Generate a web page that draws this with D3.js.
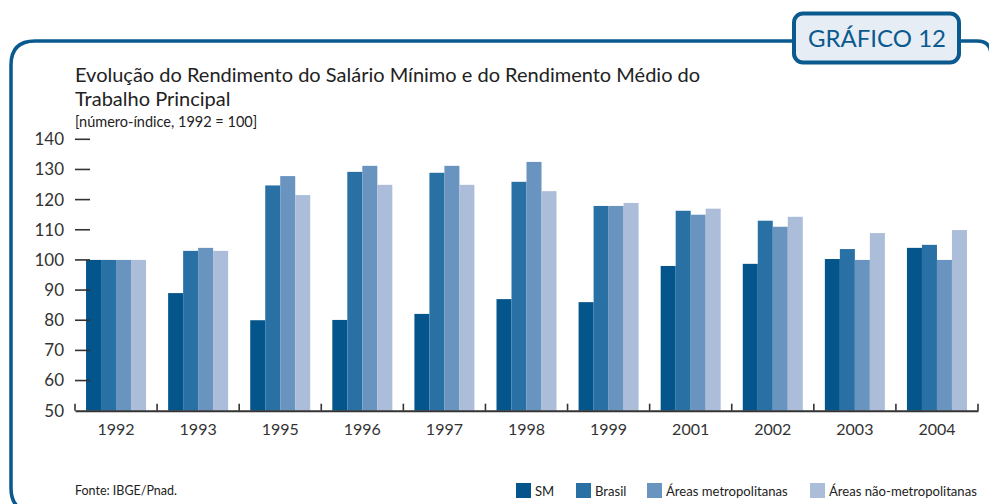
<!DOCTYPE html>
<html>
<head>
<meta charset="utf-8">
<script src="https://cdn.jsdelivr.net/npm/d3@7"></script>
<style>
  body { margin: 0; background: #fff; }
  svg { display: block; font-family: Lato, "Open Sans", sans-serif; }
</style>
</head>
<body>
<div id="chart"></div>
<script>
// données (número-índice, 1992 = 100)
const years = ["1992", "1993", "1995", "1996", "1997", "1998", "1999", "2001", "2002", "2003", "2004"];
const seriesNames = ["SM", "Brasil", "Áreas metropolitanas", "Áreas não-metropolitanas"];
const sm = [100, 89, 80, 80.1, 82.1, 87, 86, 98, 98.7, 100.3, 104];
const brasil = [100, 103, 124.7, 129.2, 128.9, 125.9, 117.9, 116.3, 113, 103.6, 105];
const metro = [100, 104, 127.8, 131.2, 131.2, 132.5, 117.9, 115, 111, 100, 100];
const naoMetro = [100, 103, 121.5, 124.9, 124.9, 122.8, 118.9, 117, 114.3, 108.9, 109.9];
const yTicks = [50, 60, 70, 80, 90, 100, 110, 120, 130, 140];
const colors = ["#03558c", "#2970a5", "#6a94c0", "#abbdd9"];

const title1 = "Evolução do Rendimento do Salário Mínimo e do Rendimento Médio do";
const title2 = "Trabalho Principal";
const subtitle = "[número-índice, 1992 = 100]";
const source = "Fonte: IBGE/Pnad.";
const badge = "GRÁFICO 12";

const width = 989;
const height = 504;
const margin = { top: 139.3, right: 11, bottom: 93.3, left: 75 };
const frameColor = "#0b5a8f";

const svg = d3
  .select("#chart")
  .append("svg")
  .attr("width", width)
  .attr("height", height)
  .attr("viewBox", [0, 0, width, height]);

// cadre arrondi
const fx0 = 11, fy0 = 41, fx1 = 991, fy1 = 512, r1 = 24, r2 = 14;
svg
  .append("path")
  .attr("fill", "none")
  .attr("stroke", frameColor)
  .attr("stroke-width", 3.5)
  .attr(
    "d",
    `M${fx0},${fy1 - r1} L${fx0},${fy0 + r1} Q${fx0},${fy0} ${fx0 + r1},${fy0} ` +
      `L${fx1 - r2},${fy0} Q${fx1},${fy0} ${fx1},${fy0 + r2} L${fx1},${fy1} ` +
      `M${fx0},${fy1 - r1} Q${fx0},${fy1} ${fx0 + r1},${fy1}`
  );

// étiquette "GRÁFICO 12"
svg
  .append("rect")
  .attr("x", 794)
  .attr("y", 13.5)
  .attr("width", 165)
  .attr("height", 49)
  .attr("rx", 9)
  .attr("fill", "#e7edf5")
  .attr("stroke", frameColor)
  .attr("stroke-width", 4);
svg
  .append("text")
  .attr("x", 877)
  .attr("y", 47)
  .attr("text-anchor", "middle")
  .attr("fill", frameColor)
  .style("font-size", "24px")
  .text(badge);

// titres
svg.append("text").attr("x", 75).attr("y", 82).attr("fill", "#222").style("font-size", "20px").text(title1);
svg.append("text").attr("x", 75).attr("y", 106).attr("fill", "#222").style("font-size", "20px").text(title2);
svg.append("text").attr("x", 75).attr("y", 127).attr("fill", "#222").style("font-size", "14.5px").text(subtitle);

// échelles
const x0 = d3
  .scaleBand()
  .domain(years)
  .range([margin.left, width - margin.right]);

const groupW = 60;
const x1 = d3
  .scaleBand()
  .domain(seriesNames)
  .range([(x0.bandwidth() - groupW) / 2, (x0.bandwidth() + groupW) / 2]);

const y = d3.scaleLinear([50, 140], [height - margin.bottom, margin.top]);

const table = years.map((yr, i) => ({
  year: yr,
  values: [sm[i], brasil[i], metro[i], naoMetro[i]],
}));

// barres
svg
  .append("g")
  .selectAll("g")
  .data(table)
  .join("g")
  .attr("transform", (d) => `translate(${x0(d.year)},0)`)
  .selectAll("rect")
  .data((d) => d.values.map((v, k) => ({ key: seriesNames[k], value: v, k })))
  .join("rect")
  .attr("x", (d) => x1(d.key))
  .attr("width", x1.bandwidth())
  .attr("y", (d) => y(d.value))
  .attr("height", (d) => y(50) - y(d.value))
  .attr("fill", (d) => colors[d.k]);

// axe y : petits traits à droite des libellés
const yAxis = svg.append("g").attr("transform", `translate(${margin.left},0)`);
yAxis
  .selectAll("line")
  .data(yTicks.filter((t) => t > 50))
  .join("line")
  .attr("x1", 0)
  .attr("x2", 15)
  .attr("y1", (d) => y(d))
  .attr("y2", (d) => y(d))
  .attr("stroke", "#333")
  .attr("stroke-width", 1.6);
yAxis
  .selectAll("text")
  .data(yTicks)
  .join("text")
  .attr("x", -11)
  .attr("y", (d) => y(d))
  .attr("dy", "0.35em")
  .attr("text-anchor", "end")
  .attr("fill", "#333")
  .style("font-size", "17px")
  .text((d) => d);

// axe x
const xAxis = svg
  .append("g")
  .attr("transform", `translate(0,${y(50)})`)
  .call(d3.axisBottom(x0).tickSize(0).tickPadding(13))
  .call((g) => g.select(".domain").attr("stroke", "#333").attr("stroke-width", 2))
  .call((g) =>
    g.selectAll(".tick text").attr("fill", "#333").style("font-size", "16px").style("font-family", "Lato, sans-serif")
  );
xAxis
  .selectAll(".sep")
  .data(years.map((d) => x0(d)).concat([x0.range()[1]]))
  .join("line")
  .attr("class", "sep")
  .attr("x1", (d) => d)
  .attr("x2", (d) => d)
  .attr("y1", 0)
  .attr("y2", -7)
  .attr("stroke", "#333")
  .attr("stroke-width", 1.6);

// source
svg.append("text").attr("x", 75).attr("y", 495).attr("fill", "#222").style("font-size", "12.5px").text(source);

// légende
const legendX = [516, 576, 647, 810];
const legend = svg
  .append("g")
  .selectAll("g")
  .data(seriesNames)
  .join("g")
  .attr("transform", (d, i) => `translate(${legendX[i]},483)`);
legend.append("rect").attr("width", 15).attr("height", 15).attr("fill", (d, i) => colors[i]);
legend
  .append("text")
  .attr("x", 19)
  .attr("y", 13)
  .attr("fill", "#222")
  .style("font-size", "13.1px")
  .text((d) => d);
</script>
</body>
</html>
